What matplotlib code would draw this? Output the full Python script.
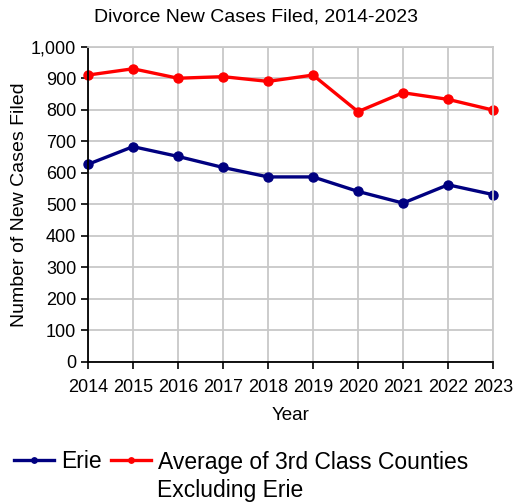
import matplotlib
matplotlib.use("Agg")
import matplotlib.pyplot as plt

plt.rcParams['font.family'] = ['Liberation Sans', 'DejaVu Sans']

years = [2014, 2015, 2016, 2017, 2018, 2019, 2020, 2021, 2022, 2023]
erie = [627, 683, 652, 617, 587, 587, 541, 504, 562, 531]
avg_3rd_class = [910, 930, 900, 905, 890, 910, 794, 854, 833, 799]
yticks = list(range(0, 1001, 100))

fig = plt.figure(figsize=(5.13, 5.03), dpi=100)
ax = fig.add_axes([88 / 513, 1 - 362 / 503, (493 - 88) / 513, (362 - 46.7) / 503])

ax.plot(years, erie, color='#000080', lw=2.4, marker='o', ms=6.5, label='Erie', clip_on=False)
ax.plot(years, avg_3rd_class, color='#ff0000', lw=2.4, marker='o', ms=6.5,
        label='Average of 3rd Class Counties', clip_on=False)

ax.set_xlim(2014, 2023)
ax.set_ylim(0, 1000)
ax.set_xticks(years)
ax.set_yticks(yticks)
ax.set_yticklabels([f'{v:,}' for v in yticks])
ax.grid(True, color='#c8c8c8', lw=1.3)
ax.set_axisbelow(True)
for s in ['top', 'right']:
    ax.spines[s].set_color('#c8c8c8')
    ax.spines[s].set_linewidth(1.3)
for s in ['left', 'bottom']:
    ax.spines[s].set_color('black')
    ax.spines[s].set_linewidth(1.3)
ax.tick_params(axis='both', labelsize=13, length=5, width=1.2, color='black')
ax.tick_params(axis='x', pad=7)

fig.text(0.5, 1 - 17 / 503, 'Divorce New Cases Filed, 2014-2023', fontsize=14,
         ha='center', va='center')
ax.set_xlabel('Year', fontsize=13.5, labelpad=8)
ax.set_ylabel('Number of New Cases Filed', fontsize=14, labelpad=2)

leg = fig.legend(loc='center left', bbox_to_anchor=(0.0, 1 - 462 / 503), ncol=2, frameon=False,
                 fontsize=16.5, handlelength=1.75, handletextpad=0.3, columnspacing=0.4,
                 markerscale=0.6, borderaxespad=0.2)

# second line of the red label, aligned under the first
fig.canvas.draw()
bb = leg.get_texts()[1].get_window_extent().transformed(fig.transFigure.inverted())
fig.text(bb.x0, 1 - 490 / 503, 'Excluding Erie', fontsize=16.5, ha='left', va='center')

fig.savefig('out.png', dpi=100)
